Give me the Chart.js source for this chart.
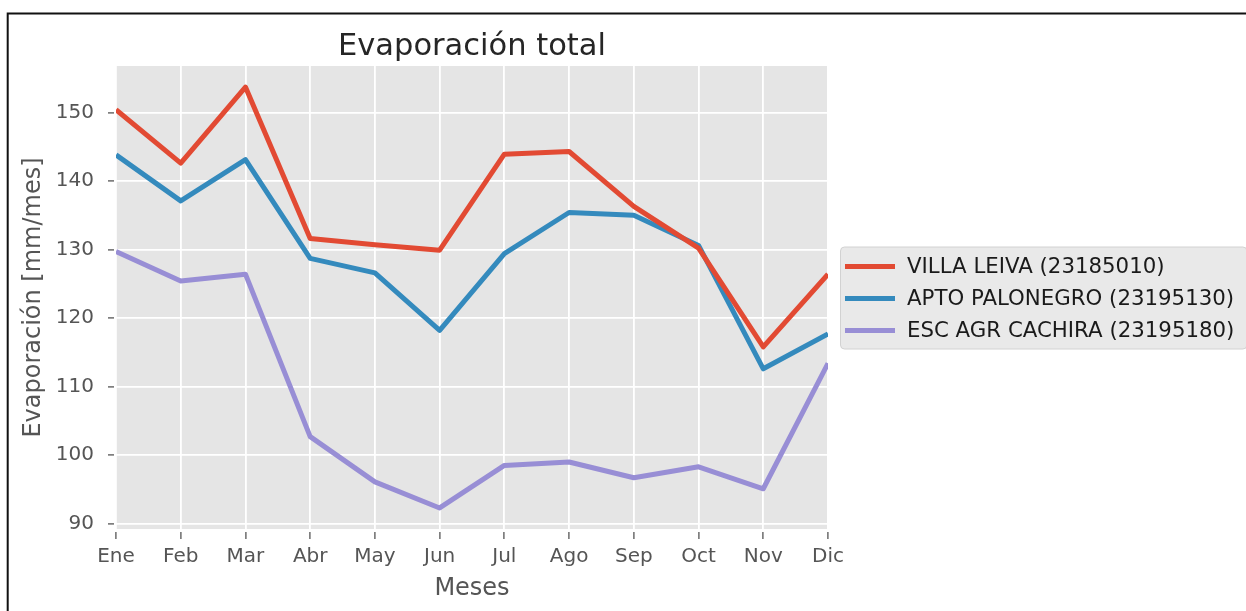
<!DOCTYPE html>
<html>
<head>
<meta charset="utf-8">
<title>Evaporación total</title>
<script src="https://cdn.jsdelivr.net/npm/chart.js@4.4.1/dist/chart.umd.min.js"></script>
<style>
  html, body { margin: 0; padding: 0; background: #fff; }
  #wrap { width: 1246px; height: 611px; }
</style>
</head>
<body>
<div id="wrap"><canvas id="evap" width="1246" height="611"></canvas></div>
<script>
// evaporacion media mensual [mm/mes] por estacion
const meses = ['Ene', 'Feb', 'Mar', 'Abr', 'May', 'Jun', 'Jul', 'Ago', 'Sep', 'Oct', 'Nov', 'Dic'];
const villaLeiva = [150.4, 142.6, 153.7, 131.6, 130.7, 129.9, 143.9, 144.3, 136.3, 130.2, 115.8, 126.4];
const aptoPalonegro = [143.8, 137.1, 143.1, 128.7, 126.6, 118.2, 129.4, 135.4, 135.0, 130.6, 112.6, 117.7];
const escAgrCachira = [129.7, 125.4, 126.4, 102.7, 96.1, 92.3, 98.5, 99.0, 96.7, 98.3, 95.1, 113.4];
const estaciones = ['VILLA LEIVA (23185010)', 'APTO PALONEGRO (23195130)', 'ESC AGR CACHIRA (23195180)'];
const colores = ['#E24A33', '#348ABD', '#988ED5'];
const yTicks = [90, 100, 110, 120, 130, 140, 150];
const titulo = 'Evaporación total';

const series = [villaLeiva, aptoPalonegro, escAgrCachira];

// margen de 5% arriba y abajo, como el autoescalado de matplotlib
const todos = series.flat();
const yLo = Math.min(...todos), yHi = Math.max(...todos);
const yPad = (yHi - yLo) * 0.05;

const FONT = 'DejaVu Sans';
const GRIS = '#555555';

// fondo blanco, marco negro y fondo gris del area de graficos
const fondo = {
  id: 'fondo',
  beforeDraw(chart) {
    const { ctx, chartArea: a, width, height } = chart;
    ctx.save();
    ctx.fillStyle = '#ffffff';
    ctx.fillRect(0, 0, width, height);
    ctx.strokeStyle = '#111';
    ctx.lineWidth = 2;
    ctx.beginPath();
    ctx.moveTo(7.7, height + 2);
    ctx.lineTo(7.7, 13.5);
    ctx.lineTo(width + 2, 13.5);
    ctx.stroke();
    ctx.fillStyle = '#E5E5E5';
    ctx.fillRect(a.left, a.top, a.right - a.left, a.bottom - a.top);
    ctx.restore();
  }
};

// titulo centrado sobre el area de graficos (no sobre todo el lienzo)
const tituloEjes = {
  id: 'tituloEjes',
  afterDraw(chart) {
    const { ctx, chartArea: a } = chart;
    ctx.save();
    ctx.font = '30.5px "' + FONT + '"';
    ctx.fillStyle = '#262626';
    ctx.textAlign = 'center';
    ctx.textBaseline = 'alphabetic';
    ctx.fillText(titulo, (a.left + a.right) / 2, a.top - 11);
    ctx.restore();
  }
};

// leyenda a la derecha del area de graficos
const leyenda = {
  id: 'leyenda',
  afterDraw(chart) {
    const { ctx, chartArea: a } = chart;
    const ds = chart.data.datasets;
    ctx.save();
    ctx.font = '21.3px "' + FONT + '"';
    const textW = Math.max(...ds.map(d => ctx.measureText(d.label).width));
    const rowH = 32;
    const w = 67 + textW + 12;
    const h = ds.length * rowH + 6;
    const x = a.right + 12;
    const y = (a.top + a.bottom) / 2 - h / 2;
    ctx.fillStyle = '#e9e9e9';
    ctx.strokeStyle = '#d2d2d2';
    ctx.lineWidth = 1;
    ctx.beginPath();
    ctx.roundRect(x + 0.5, y + 0.5, w, h, 4);
    ctx.fill();
    ctx.stroke();
    ctx.textBaseline = 'middle';
    ctx.textAlign = 'left';
    ds.forEach((d, i) => {
      const cy = y + 20 + i * rowH;
      ctx.strokeStyle = d.borderColor;
      ctx.lineWidth = 5;
      ctx.beginPath();
      ctx.moveTo(x + 5, cy);
      ctx.lineTo(x + 55, cy);
      ctx.stroke();
      ctx.fillStyle = '#1a1a1a';
      ctx.fillText(d.label, x + 67, cy + 1);
    });
    ctx.restore();
  }
};

new Chart(document.getElementById('evap'), {
  type: 'line',
  data: {
    labels: meses,
    datasets: series.map((s, i) => ({
      label: estaciones[i],
      data: s,
      borderColor: colores[i],
      backgroundColor: colores[i],
      borderWidth: 5,
      borderJoinStyle: 'round',
      pointRadius: 0,
      tension: 0,
      fill: false,
      clip: 0
    }))
  },
  options: {
    responsive: false,
    devicePixelRatio: 1,
    animation: false,
    layout: { padding: { left: 0, right: 418, top: 66, bottom: 0 } },
    plugins: {
      legend: { display: false },
      tooltip: { enabled: false },
      title: { display: false }
    },
    scales: {
      x: {
        type: 'category',
        offset: false,
        border: { display: false },
        grid: {
          color: '#ffffff',
          lineWidth: 1.8,
          tickColor: GRIS,
          tickWidth: 1.3,
          tickLength: 10,
          tickBorderDash: [0, 3, 7, 20]
        },
        ticks: {
          color: GRIS,
          font: { family: FONT, size: 20 },
          padding: 6,
          maxRotation: 0,
          autoSkip: false
        },
        title: {
          display: true,
          text: 'Meses',
          color: GRIS,
          font: { family: FONT, size: 24 },
          padding: { top: 0, bottom: 8 }
        },
        afterFit(s) { s.height = 82; }
      },
      y: {
        type: 'linear',
        min: yLo - yPad,
        max: yHi + yPad,
        border: { display: false },
        afterBuildTicks(s) { s.ticks = yTicks.map(v => ({ value: v })); },
        grid: {
          color: '#ffffff',
          lineWidth: 1.8,
          tickColor: GRIS,
          tickWidth: 1.3,
          tickLength: 8,
          tickBorderDash: [6, 20]
        },
        ticks: {
          color: GRIS,
          font: { family: FONT, size: 20 },
          padding: 14
        },
        title: {
          display: true,
          text: 'Evaporación [mm/mes]',
          color: GRIS,
          font: { family: FONT, size: 24 },
          padding: { top: 19, bottom: 0 }
        },
        afterFit(s) { s.width = 116; }
      }
    }
  },
  plugins: [fondo, tituloEjes, leyenda]
});
</script>
</body>
</html>
